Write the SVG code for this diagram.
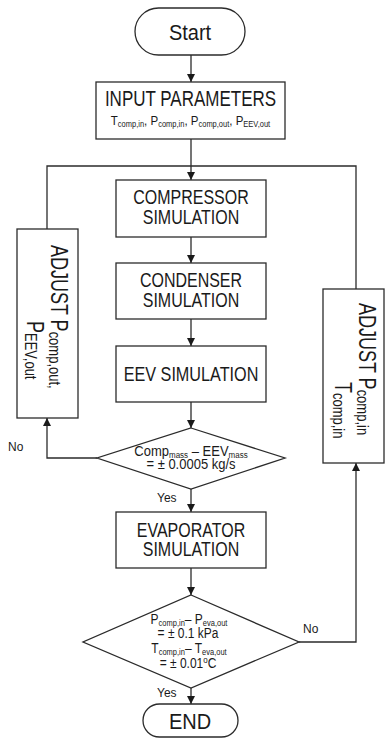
<svg xmlns="http://www.w3.org/2000/svg" width="385" height="739" viewBox="0 0 385 739">
<style>
.box{fill:#fff;stroke:#2b2b2b;stroke-width:1.3}
.ln{fill:none;stroke:#2b2b2b;stroke-width:1.3}
text{font-family:"Liberation Sans",Arial,sans-serif;fill:#1a1a1a}
.c{text-anchor:middle}
</style>
<defs>
<marker id="ah" markerUnits="userSpaceOnUse" markerWidth="8" markerHeight="9" refX="8" refY="4" orient="auto">
<path d="M0,0 L8,4 L0,8 Z" fill="#1a1a1a"/>
</marker>
</defs>
<g id="connectors">
<path class="ln" d="M191,55 V82" marker-end="url(#ah)"/>
<path class="ln" d="M191,139 V180" marker-end="url(#ah)"/>
<path class="ln" d="M47,229 V166 H356 V289"/>
<path class="ln" d="M191,237 V263" marker-end="url(#ah)"/>
<path class="ln" d="M191,319 V346" marker-end="url(#ah)"/>
<path class="ln" d="M191,402 V428" marker-end="url(#ah)"/>
<path class="ln" d="M97,458 H47 V418" marker-end="url(#ah)"/>
<path class="ln" d="M191,489 V512" marker-end="url(#ah)"/>
<path class="ln" d="M191,568 V595" marker-end="url(#ah)"/>
<path class="ln" d="M299,642 H356 V463" marker-end="url(#ah)"/>
<path class="ln" d="M191,688 V704" marker-end="url(#ah)"/>
<text transform="translate(8,451) scale(1,1.1)" font-size="12">No</text>
<text transform="translate(157,502) scale(1,1.1)" font-size="12">Yes</text>
<text transform="translate(303,633) scale(1,1.1)" font-size="12">No</text>
<text transform="translate(157,697) scale(1,1.1)" font-size="12">Yes</text>
</g>
<g id="start">
<rect class="box" x="135" y="8" width="110" height="47" rx="23.5"/>
<text class="c" transform="translate(190,40) scale(1,1.08)" font-size="20">Start</text>
</g>
<g id="input">
<rect class="box" x="96" y="82" width="189" height="57"/>
<text class="c" transform="translate(190.5,106) scale(1,1.25)" font-size="17">INPUT PARAMETERS</text>
<text class="c" transform="translate(190.5,125) scale(1,1.15)" font-size="11.5">T<tspan font-size="7.5" dy="2">comp,in</tspan><tspan dy="-2">, P</tspan><tspan font-size="7.5" dy="2">comp,in</tspan><tspan dy="-2">, P</tspan><tspan font-size="7.5" dy="2">comp,out</tspan><tspan dy="-2">, P</tspan><tspan font-size="7.5" dy="2">EEV,out</tspan></text>
</g>
<g id="compressor">
<rect class="box" x="116" y="180" width="150" height="57"/>
<text class="c" transform="translate(191,204) scale(1,1.22)" font-size="16">COMPRESSOR</text>
<text class="c" transform="translate(191,224) scale(1,1.22)" font-size="16">SIMULATION</text>
</g>
<g id="condenser">
<rect class="box" x="116" y="263" width="150" height="56"/>
<text class="c" transform="translate(191,287) scale(1,1.22)" font-size="16">CONDENSER</text>
<text class="c" transform="translate(191,307) scale(1,1.22)" font-size="16">SIMULATION</text>
</g>
<g id="eev">
<rect class="box" x="116" y="346" width="150" height="56"/>
<text class="c" transform="translate(191,381) scale(1,1.28)" font-size="16.2">EEV SIMULATION</text>
</g>
<g id="mass-check">
<path class="box" d="M191,428 L285,458 L191,489 L97,458 Z"/>
<text class="c" transform="translate(191,456) scale(1,1.15)" font-size="13">Comp<tspan font-size="8" dy="2">mass</tspan><tspan dy="-2"> – EEV</tspan><tspan font-size="8" dy="2">mass</tspan></text>
<text class="c" transform="translate(191,469) scale(1,1.15)" font-size="13">= ± 0.0005 kg/s</text>
</g>
<g id="adjust-left">
<rect class="box" x="17" y="229" width="61" height="189"/>
<text transform="translate(51,245) rotate(90) scale(1,1.3)" font-size="18">ADJUST P<tspan font-size="13" dy="1.5">comp,out,</tspan></text>
<text transform="translate(27,321) rotate(90) scale(1,1.3)" font-size="18">P<tspan font-size="13" dy="1.5">EEV,out</tspan></text>
</g>
<g id="evaporator">
<rect class="box" x="116" y="512" width="150" height="56"/>
<text class="c" transform="translate(191,537) scale(1,1.22)" font-size="16">EVAPORATOR</text>
<text class="c" transform="translate(191,556) scale(1,1.22)" font-size="16">SIMULATION</text>
</g>
<g id="pressure-check">
<path class="box" d="M191,595 L299,642 L191,688 L83,642 Z"/>
<text class="c" transform="translate(189,624) scale(1,1.15)" font-size="12">P<tspan font-size="7.5" dy="2">comp,in</tspan><tspan dy="-2">– P</tspan><tspan font-size="7.5" dy="2">eva,out</tspan></text>
<text class="c" transform="translate(188,638) scale(1,1.15)" font-size="12">= ± 0.1 kPa</text>
<text class="c" transform="translate(189,653) scale(1,1.15)" font-size="12">T<tspan font-size="7.5" dy="2">comp,in</tspan><tspan dy="-2">– T</tspan><tspan font-size="7.5" dy="2">eva,out</tspan></text>
<text class="c" transform="translate(188,668) scale(1,1.15)" font-size="12">= ± 0.01<tspan font-size="8" dy="-4">o</tspan><tspan dy="4">C</tspan></text>
</g>
<g id="adjust-right">
<rect class="box" x="323" y="289" width="61" height="174"/>
<text transform="translate(359,303) rotate(90) scale(1,1.3)" font-size="18">ADJUST P<tspan font-size="13" dy="1.5">comp,in</tspan></text>
<text transform="translate(335,382) rotate(90) scale(1,1.3)" font-size="18">T<tspan font-size="13" dy="1.5">comp,in</tspan></text>
</g>
<g id="end">
<rect class="box" x="143" y="704" width="95" height="33" rx="16.5"/>
<text class="c" transform="translate(190,729) scale(1,1.1)" font-size="20">END</text>
</g>
</svg>
